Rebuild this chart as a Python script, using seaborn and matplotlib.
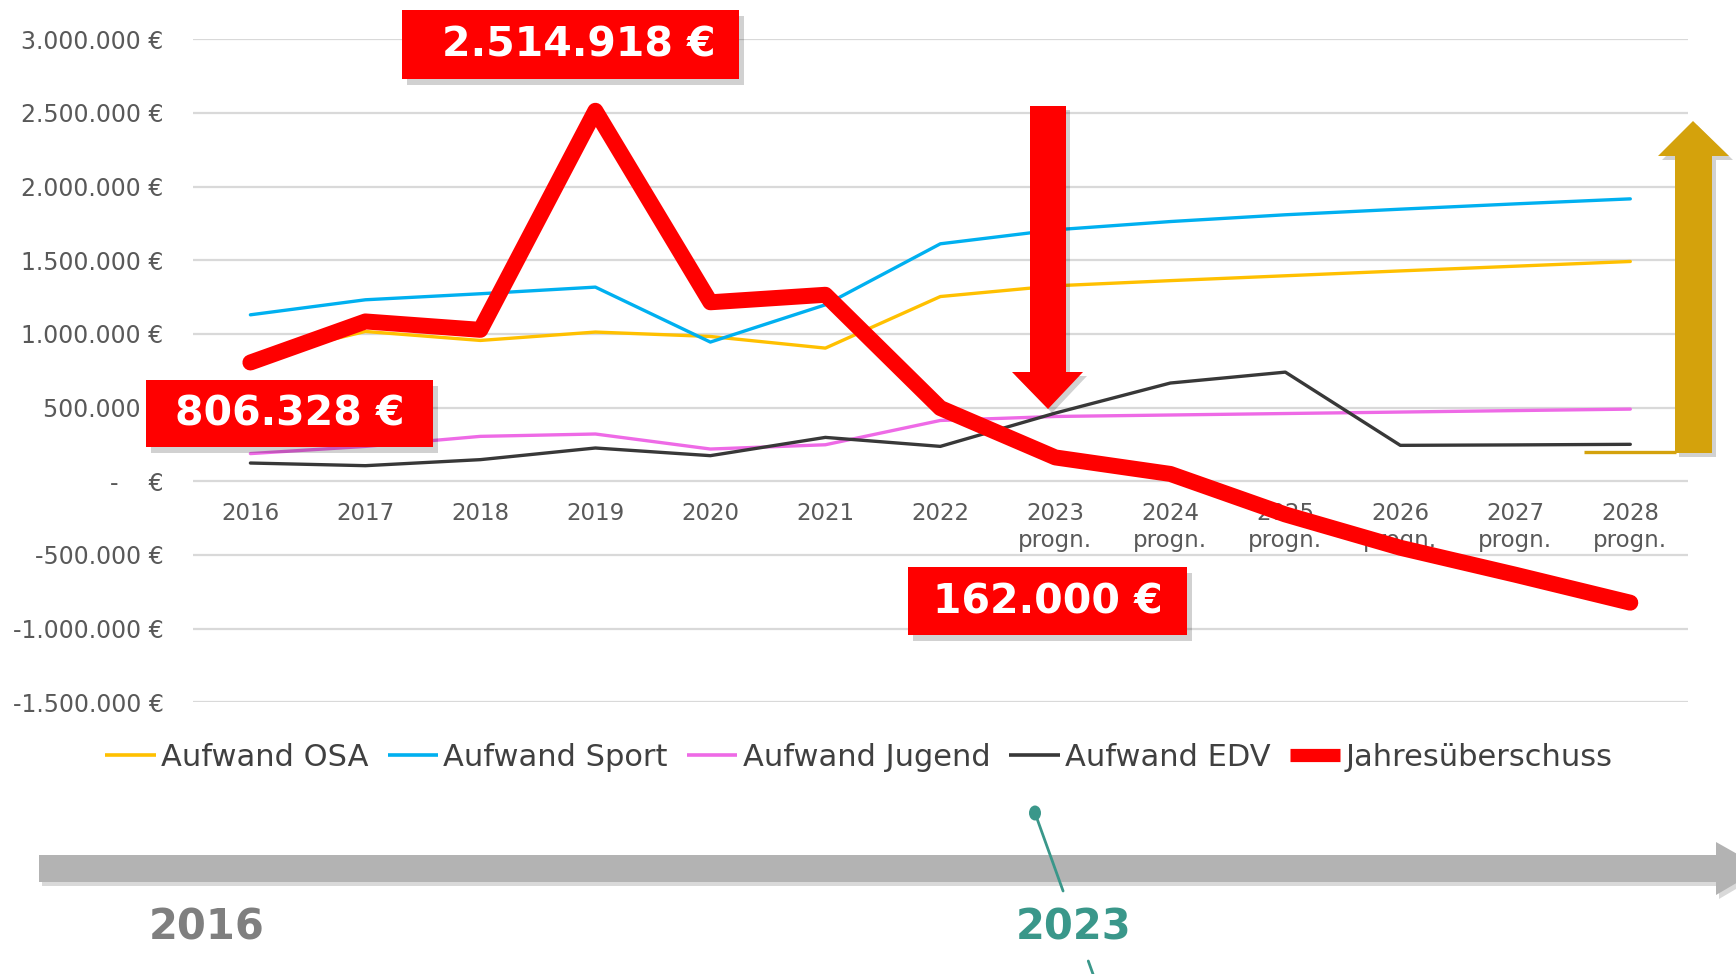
import numpy as np
import pandas as pd
import seaborn as sns
import matplotlib.pyplot as plt
from matplotlib.patches import Rectangle, Polygon, Ellipse
from matplotlib.lines import Line2D

# Chart data
years = ["2016", "2017", "2018", "2019", "2020", "2021", "2022",
         "2023", "2024", "2025", "2026", "2027", "2028"]
prognose = [False] * 7 + [True] * 6

aufwand_osa = [830000, 1017000, 956000, 1013000, 983000, 904000, 1254000,
               1327000, 1362000, 1395000, 1428000, 1460000, 1492000]
aufwand_sport = [1130000, 1232000, 1273000, 1318000, 945000, 1198000, 1612000,
                 1707000, 1763000, 1809000, 1847000, 1883000, 1917000]
aufwand_jugend = [188000, 237000, 305000, 321000, 219000, 248000, 413000,
                  440000, 450000, 460000, 470000, 480000, 490000]
aufwand_edv = [124000, 106000, 147000, 226000, 174000, 298000, 237000,
               463000, 667000, 741000, 244000, 247000, 251000]
jahresueberschuss = [806328, 1085000, 1028000, 2514918, 1215000, 1266000, 497000,
                     162000, 50000, -225000, -451000, -634000, -824000]

series_names = ["Aufwand OSA", "Aufwand Sport", "Aufwand Jugend", "Aufwand EDV", "Jahresüberschuss"]
series_values = [aufwand_osa, aufwand_sport, aufwand_jugend, aufwand_edv, jahresueberschuss]
series_colors = ["#FFC000", "#00B0F0", "#EE6AE6", "#383838", "#FF0000"]
series_widths = [2.4, 2.4, 2.4, 2.4, 11.5]

# labels highlighted in red boxes (index into the years)
highlight_idx = [3, 0, 7]

x_labels = [y + "\nprogn." if p else y for y, p in zip(years, prognose)]
x_pos = np.arange(len(years))

sns.set_theme(style="white")
plt.rcParams['font.family'] = ['DejaVu Sans']

W, H = 1736, 974
fig = plt.figure(figsize=(W / 100, H / 100), dpi=100)
ax = fig.add_axes([192.9 / W, 1 - 702.3 / H, (1687.8 - 192.9) / W, (702.3 - 39.3) / H])

for name, vals, col, lw in zip(series_names, series_values, series_colors, series_widths):
    df = pd.DataFrame({'x': x_pos, 'y': vals})
    sns.lineplot(data=df, x='x', y='y', color=col, lw=lw, ax=ax, sort=False,
                 solid_capstyle='round', solid_joinstyle='round')

ax.set_xlim(-0.5, len(years) - 0.5)
ax.set_ylim(-1500000, 3000000)
ax.set_yticks(np.arange(-1500000, 3000001, 500000))


def euro(v, pos=None):
    if v == 0:
        return "-    €"
    return f"{v:,.0f}".replace(",", ".") + " €"


ax.yaxis.set_major_formatter(plt.FuncFormatter(euro))
ax.set_xticks(x_pos)
ax.set_xticklabels(x_labels)
ax.set_xlabel("")
ax.set_ylabel("")
ax.yaxis.grid(True, color="#D9D9D9", lw=1.6)
ax.set_axisbelow(True)
for s in ax.spines.values():
    s.set_visible(False)
ax.spines['bottom'].set_position(('data', 0))
ax.tick_params(axis='y', length=0, pad=21, labelsize=17, labelcolor="#595959")
ax.tick_params(axis='x', length=0, pad=15, labelsize=16.5, labelcolor="#595959")

handles = [Line2D([], [], color=c, lw=(9.5 if lw > 5 else 2.6), solid_capstyle='butt')
           for c, lw in zip(series_colors, series_widths)]
leg = ax.legend(handles, series_names, loc='center', bbox_to_anchor=(859 / W, 1 - 757 / H),
                bbox_transform=fig.transFigure, ncol=5, frameon=False, fontsize=22,
                handlelength=1.65, handletextpad=0.18, columnspacing=0.62, borderpad=0)
for t in leg.get_texts():
    t.set_color("#404040")

# overlay in pixel coordinates for the callouts
ov = fig.add_axes([0, 0, 1, 1], zorder=5)
ov.set_xlim(0, W)
ov.set_ylim(H, 0)
ov.axis('off')
ov.patch.set_alpha(0)

boxes = [(402, 10, 337, 69), (146, 380, 287, 67), (908, 567, 279, 68)]
text_cx = [579, 289.5, 1048]
for (bx, by, bw, bh), cx, idx in zip(boxes, text_cx, highlight_idx):
    ov.add_patch(Rectangle((bx + 5, by + 6), bw, bh, color="black", alpha=0.18, lw=0))
    ov.add_patch(Rectangle((bx, by), bw, bh, color="#FF0000", lw=0))
    ov.text(cx, by + bh / 2 + 1, euro(jahresueberschuss[idx]), color="white", fontsize=29.5,
            fontweight='bold', ha='center', va='center')

# red arrow down
red_arrow = [(1030, 106), (1066, 106), (1066, 372), (1083, 372), (1048, 409), (1012, 372), (1030, 372)]
ov.add_patch(Polygon([(px + 4, py + 4) for px, py in red_arrow], closed=True, color="black", alpha=0.18, lw=0))
ov.add_patch(Polygon(red_arrow, closed=True, color="#FF0000", lw=0))

# gold arrow up
gold = "#D4A20C"
ov.plot([1584, 1676], [452, 452], color=gold, lw=2.4, solid_capstyle='butt')
gold_arrow = [(1675, 453), (1712, 453), (1712, 156), (1729, 156), (1693, 121), (1658, 156), (1675, 156)]
ov.add_patch(Polygon([(px + 4, py + 4) for px, py in gold_arrow], closed=True, color="black", alpha=0.18, lw=0))
ov.add_patch(Polygon(gold_arrow, closed=True, color=gold, lw=0))

# timeline arrow
tl = [(39, 855), (1716, 855), (1716, 842), (1762, 868), (1716, 895), (1716, 882), (39, 882)]
ov.add_patch(Polygon([(px + 3, py + 4) for px, py in tl], closed=True, color="black", alpha=0.15, lw=0))
ov.add_patch(Polygon(tl, closed=True, color="#B3B3B3", lw=0))

teal = "#3A978A"
slope = 0.36
ov.plot([1035, 1035 + slope * (891 - 813)], [813, 891], color=teal, lw=2)
ov.plot([1035 + slope * (961 - 813), 1035 + slope * (980 - 813)], [961, 980], color=teal, lw=2)
ov.add_patch(Ellipse((1035, 813), 12, 15, color=teal, lw=0))

ov.text(207, 927, "2016", color="#7F7F7F", fontsize=30, fontweight='bold', ha='center', va='center')
ov.text(1074, 927, "2023", color=teal, fontsize=30, fontweight='bold', ha='center', va='center')

fig.savefig("out.png", dpi=100)
